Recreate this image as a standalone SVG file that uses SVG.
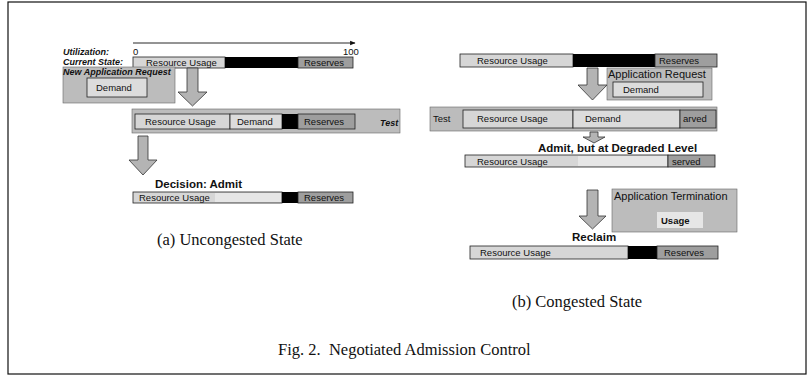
<svg xmlns="http://www.w3.org/2000/svg" width="812" height="377" viewBox="0 0 812 377">
<defs>
<style>
.lbl{font-family:"Liberation Sans",Arial,sans-serif;font-size:9.5px;fill:#111}
.big{font-family:"Liberation Sans",Arial,sans-serif;font-size:11px;fill:#111}
.bi{font-family:"Liberation Sans",Arial,sans-serif;font-size:9px;font-weight:bold;font-style:italic;fill:#111}
.hd{font-family:"Liberation Sans",Arial,sans-serif;font-size:11.5px;font-weight:bold;fill:#111}
.cap{font-family:"Liberation Serif","Times New Roman",serif;font-size:16.5px;fill:#111}
.ru{fill:#d6d6d6;stroke:#222;stroke-width:0.8}
.lt{fill:#e6e6e6;stroke:none}
.dm{fill:#dcdcdc;stroke:#222;stroke-width:0.8}
.blk{fill:#000}
.rs{fill:#9e9e9e;stroke:#222;stroke-width:0.8}
.bg{fill:#bcbcbc;stroke:#666;stroke-width:0.6}
.arr{fill:#b4b4b4;stroke:#333;stroke-width:0.8}
</style>
<marker id="ah" viewBox="0 0 10 10" refX="9" refY="5" markerWidth="6" markerHeight="6" orient="auto"><path d="M0,1 L10,5 L0,9 z" fill="#111"/></marker>
</defs>
<rect x="8" y="2" width="798" height="372" fill="#fff" stroke="#111" stroke-width="1.2"/>

<!-- Left panel (a) -->
<g id="utilization">
<text class="bi" x="63" y="55">Utilization:</text>
<line x1="133" y1="43" x2="355" y2="43" stroke="#111" stroke-width="0.9" marker-end="url(#ah)"/>
<text class="lbl" x="133" y="55" font-size="8">0</text>
<text class="lbl" x="343" y="55" font-size="8">100</text>
</g>
<g id="a-current">
<text class="bi" x="63" y="65" font-size="9.5">Current State:</text>
<rect class="ru" x="133" y="57" width="92" height="11"/>
<rect class="blk" x="225" y="57" width="73" height="11"/>
<rect class="rs" x="298" y="57" width="55" height="11"/>
<text class="lbl" x="146" y="66">Resource Usage</text>
<text class="lbl" x="304" y="66">Reserves</text>
</g>
<g id="a-request">
<rect class="bg" x="63" y="67" width="112" height="36" stroke="none"/>
<text class="bi" x="63" y="74.5">New Application Request</text>
<rect class="dm" x="87" y="78" width="60" height="19"/>
<text class="lbl" x="96" y="91">Demand</text>
</g>
<g id="a-test">
<rect class="bg" x="132" y="109" width="268" height="24"/>
<rect class="ru" x="135" y="114" width="95" height="15"/>
<rect class="dm" x="230" y="114" width="52" height="15"/>
<rect class="blk" x="282" y="114" width="16" height="15"/>
<rect class="rs" x="298" y="114" width="57" height="15"/>
<text class="lbl" x="145" y="125">Resource Usage</text>
<text class="lbl" x="237" y="125">Demand</text>
<text class="lbl" x="304" y="125">Reserves</text>
<text class="bi" x="380" y="126">Test</text>
</g>
<g id="a-decision">
<text class="hd" x="155" y="188">Decision: Admit</text>
<rect class="ru" x="133" y="192" width="149" height="11"/>
<rect class="lt" x="215" y="193" width="66" height="9"/>
<rect class="blk" x="282" y="192" width="16" height="11"/>
<rect class="rs" x="298" y="192" width="55" height="11"/>
<text class="lbl" x="139" y="201">Resource Usage</text>
<text class="lbl" x="304" y="201">Reserves</text>
</g>
<g id="a-caption">
<text class="cap" x="157" y="245">(a) Uncongested State</text>
</g>

<!-- Right panel (b) -->
<g id="b-current">
<rect class="ru" x="460" y="54" width="113" height="13"/>
<rect class="blk" x="573" y="54" width="82" height="13"/>
<rect class="rs" x="655" y="54" width="62" height="13"/>
<text class="lbl" x="477" y="64">Resource Usage</text>
<text class="lbl" x="659" y="64">Reserves</text>
</g>
<g id="b-request">
<rect class="bg" x="607" y="68" width="105" height="32"/>
<text class="big" x="608" y="78">Application Request</text>
<rect class="dm" x="613" y="82" width="90" height="15"/>
<text class="lbl" x="623" y="93">Demand</text>
</g>
<g id="b-test">
<rect class="bg" x="430" y="107" width="287" height="24"/>
<text class="lbl" x="433" y="122">Test</text>
<rect class="ru" x="463" y="110" width="110" height="18"/>
<rect class="dm" x="573" y="110" width="107" height="18"/>
<rect class="rs" x="680" y="110" width="36" height="18"/>
<text class="lbl" x="477" y="122">Resource Usage</text>
<text class="lbl" x="585" y="122">Demand</text>
<text class="lbl" x="683" y="122">arved</text>
</g>
<g id="b-degraded">
<text class="hd" x="538" y="152">Admit, but at Degraded Level</text>
<rect class="ru" x="465" y="155" width="203" height="12"/>
<rect class="lt" x="578" y="156" width="89" height="10"/>
<rect class="rs" x="668" y="155" width="47" height="12"/>
<text class="lbl" x="477" y="164.5">Resource Usage</text>
<text class="lbl" x="672" y="164.5">served</text>
</g>
<g id="b-termination">
<rect class="bg" x="612" y="189" width="125" height="43"/>
<text class="big" x="614" y="200">Application Termination</text>
<rect class="lt" x="657" y="212" width="46" height="16" fill="#e0e0e0"/>
<text class="lbl" x="661" y="224" font-weight="bold" font-size="10">Usage</text>
</g>
<g id="b-reclaim">
<text class="hd" x="572" y="241" font-size="12">Reclaim</text>
<rect class="ru" x="470" y="246" width="158" height="13"/>
<rect class="blk" x="628" y="246" width="29" height="13"/>
<rect class="rs" x="657" y="246" width="61" height="13"/>
<text class="lbl" x="480" y="256">Resource Usage</text>
<text class="lbl" x="664" y="256">Reserves</text>
</g>
<g id="b-caption">
<text class="cap" x="512" y="307">(b) Congested State</text>
</g>
<g id="figure-caption">
<text class="cap" x="278" y="355" font-size="17.5">Fig. 2.&#160; Negotiated Admission Control</text>
</g>

<!-- Block arrows -->
<g id="connectors">
<path class="arr" d="M187,68 H198 V92 H207 L192.5,106 L178,92 H187 Z"/>
<path class="arr" d="M138,136 H148 V160 H157 L143,175 L129,160 H138 Z"/>
<path class="arr" d="M587,68 H598 V85 H607 L592.5,100 L578,85 H587 Z"/>
<path class="arr" d="M590,132 H598 V137 H605 L594,143 L583,137 H590 Z"/>
<path class="arr" d="M587,190 H598 V216 H606 L592.5,229 L579,216 H587 Z"/>
</g>
</svg>
